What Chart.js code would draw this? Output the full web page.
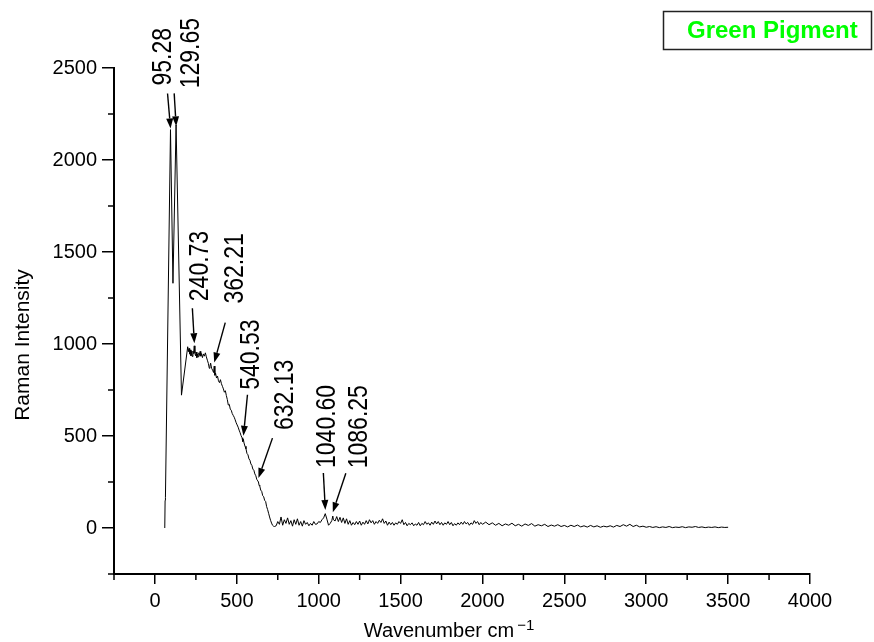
<!DOCTYPE html>
<html>
<head>
<meta charset="utf-8">
<title>Green Pigment – Raman spectrum</title>
<script src="https://cdn.jsdelivr.net/npm/chart.js@4/dist/chart.umd.min.js"></script>
<style>
  html, body { margin: 0; padding: 0; background: #fff; }
  #wrap { width: 874px; height: 642px; }
</style>
</head>
<body>
<div id="wrap"><canvas id="spectrum" width="874" height="642"></canvas></div>
<script>
// Raman spectrum of the green pigment: wavenumber (cm-1) and intensity
const wavenumbers = [
  60, 62, 64, 95, 110, 129, 162, 200, 204, 208,
  212, 216, 220, 224, 228, 232, 236, 240, 244, 248,
  252, 256, 260, 264, 268, 272, 276, 280, 284, 290,
  296, 302, 308, 314, 320, 326, 332, 336, 340, 346,
  352, 358, 362, 366, 370, 376, 382, 388, 394, 400,
  406, 412, 418, 424, 430, 436, 442, 448, 454, 460,
  466, 472, 478, 484, 490, 496, 502, 508, 514, 520,
  526, 532, 536, 540, 544, 550, 556, 562, 568, 574,
  580, 586, 592, 598, 604, 610, 616, 622, 628, 632,
  636, 640, 646, 652, 658, 664, 670, 676, 682, 688,
  694, 700, 706, 712, 718, 724, 730, 740, 750, 760,
  770, 780, 790, 800, 810, 820, 830, 840, 850, 860,
  870, 880, 890, 900, 910, 920, 930, 940, 950, 960,
  970, 980, 990, 1000, 1010, 1020, 1030, 1040, 1050, 1060,
  1070, 1080, 1086, 1090, 1100, 1110, 1120, 1130, 1140, 1150,
  1160, 1170, 1180, 1190, 1200, 1210, 1220, 1230, 1240, 1250,
  1260, 1270, 1280, 1290, 1300, 1310, 1320, 1330, 1340, 1350,
  1360, 1370, 1380, 1390, 1400, 1410, 1420, 1430, 1440, 1450,
  1460, 1470, 1480, 1490, 1500, 1510, 1520, 1530, 1540, 1550,
  1560, 1570, 1580, 1590, 1600, 1610, 1620, 1630, 1640, 1650,
  1660, 1670, 1680, 1690, 1700, 1710, 1720, 1730, 1740, 1750,
  1760, 1770, 1780, 1790, 1800, 1810, 1820, 1830, 1840, 1850,
  1860, 1870, 1880, 1890, 1900, 1910, 1920, 1930, 1940, 1950,
  1960, 1970, 1980, 1990, 2000, 2020, 2040, 2060, 2080, 2100,
  2120, 2140, 2160, 2180, 2200, 2220, 2240, 2260, 2280, 2300,
  2320, 2340, 2360, 2380, 2400, 2420, 2440, 2460, 2480, 2500,
  2520, 2540, 2560, 2580, 2600, 2620, 2640, 2660, 2680, 2700,
  2720, 2740, 2760, 2780, 2800, 2820, 2840, 2860, 2880, 2900,
  2920, 2940, 2960, 2980, 3000, 3020, 3040, 3060, 3080, 3100,
  3120, 3140, 3160, 3180, 3200, 3220, 3240, 3260, 3280, 3300,
  3320, 3340, 3360, 3380, 3400, 3420, 3440, 3460, 3480, 3500
];

const intensities = [
  0, 150, 165, 2165, 1330, 2190, 722, 985, 958, 976,
  945, 968, 936, 960, 932, 962, 948, 990, 950, 936,
  956, 926, 946, 930, 952, 938, 960, 934, 948, 926,
  946, 934, 952, 930, 912, 895, 868, 880, 896, 868,
  858, 845, 880, 830, 842, 815, 826, 800, 790, 806,
  784, 770, 756, 738, 746, 720, 698, 668, 672, 646,
  640, 622, 612, 602, 588, 572, 560, 548, 532, 518,
  502, 490, 470, 482, 462, 444, 430, 405, 398, 376,
  368, 348, 340, 320, 314, 294, 284, 264, 256, 250,
  232, 228, 206, 199, 176, 170, 150, 144, 116, 100,
  80, 60, 42, 27, 15, 10, 8, 12, 35, 20,
  60, 15, 45, 25, 55, 20, 40, 10, 45, 20,
  50, 15, 35, 10, 40, 20, 30, 12, 25, 15,
  35, 20, 22, 35, 30, 45, 55, 78, 48, 15,
  25, 40, 65, 45, 38, 62, 35, 58, 30, 55,
  25, 50, 20, 40, 15, 30, 18, 35, 20, 38,
  15, 32, 20, 40, 22, 45, 28, 40, 20, 35,
  25, 42, 30, 50, 25, 38, 15, 32, 18, 30,
  15, 28, 20, 35, 25, 45, 18, 30, 12, 25,
  18, 28, 12, 22, 15, 30, 12, 25, 18, 35,
  20, 28, 15, 32, 20, 38, 22, 35, 18, 30,
  15, 28, 20, 35, 18, 30, 12, 24, 15, 28,
  18, 32, 20, 35, 22, 30, 15, 28, 20, 40,
  25, 35, 18, 30, 20, 32, 18, 28, 15, 25,
  12, 22, 15, 26, 12, 20, 10, 22, 14, 24,
  10, 18, 12, 20, 8, 16, 10, 18, 8, 14,
  6, 15, 8, 16, 6, 12, 5, 14, 6, 12,
  4, 10, 6, 12, 5, 14, 8, 18, 10, 20,
  8, 15, 6, 10, 4, 8, 3, 7, 2, 6,
  3, 8, 2, 5, 3, 7, 2, 6, 4, 8,
  3, 6, 2, 5, 3, 6, 2, 5, 3, 4
];

// Assigned band positions (cm-1)
const peakPositions = [95.28, 129.65, 240.73, 362.21, 540.53, 632.13, 1040.60, 1086.25];

// Axis ticks
const xTicks = [0, 500, 1000, 1500, 2000, 2500, 3000, 3500, 4000];
const xMinorTicks = [-250, 250, 750, 1250, 1750, 2250, 2750, 3250, 3750];
const yTicks = [0, 500, 1000, 1500, 2000, 2500];
const yMinorTicks = [-250, 250, 750, 1250, 1750, 2250];

const seriesName = 'Green Pigment';
const xTitle = 'Wavenumber cm';
const xTitleSup = '\u22121';
const yTitle = 'Raman Intensity';

const FONT = "'Liberation Sans', Arial, Helvetica, sans-serif";

// Label / arrow placement for each band, in pixels relative to the arrow tip
const peakLayout = [
  { text: [0, -43],   tail: [-3, -35] },
  { text: [23, -38],  tail: [-2, -33] },
  { text: [14, -42],  tail: [-2, -35] },
  { text: [29, -59],  tail: [11, -40] },
  { text: [16, -46],  tail: [4, -41] },
  { text: [35, -48],  tail: [14, -40] },
  { text: [10, -42],  tail: [-2, -37] },
  { text: [34, -44],  tail: [13, -39] }
];

function intensityAt(w) {
  for (let i = 1; i < wavenumbers.length; i++) {
    if (w <= wavenumbers[i]) {
      const x0 = wavenumbers[i - 1], x1 = wavenumbers[i];
      const t = (w - x0) / (x1 - x0);
      return intensities[i - 1] + t * (intensities[i] - intensities[i - 1]);
    }
  }
  return intensities[intensities.length - 1];
}

function drawArrow(ctx, x1, y1, x2, y2) {
  const ang = Math.atan2(y2 - y1, x2 - x1);
  const headLen = 10, headHalf = 3.5;
  const bx = x2 - headLen * Math.cos(ang), by = y2 - headLen * Math.sin(ang);
  ctx.beginPath();
  ctx.moveTo(x1, y1);
  ctx.lineTo(bx, by);
  ctx.stroke();
  ctx.beginPath();
  ctx.moveTo(x2, y2);
  ctx.lineTo(bx + headHalf * Math.sin(ang), by - headHalf * Math.cos(ang));
  ctx.lineTo(bx - headHalf * Math.sin(ang), by + headHalf * Math.cos(ang));
  ctx.closePath();
  ctx.fill();
}

const decorations = {
  id: 'decorations',
  afterDraw(chart) {
    const { ctx, chartArea } = chart;
    const xs = chart.scales.x, ys = chart.scales.y;
    ctx.save();

    // minor ticks
    ctx.strokeStyle = '#000';
    ctx.lineWidth = 1.5;
    xMinorTicks.forEach(v => {
      const px = xs.getPixelForValue(v);
      ctx.beginPath();
      ctx.moveTo(px, chartArea.bottom);
      ctx.lineTo(px, chartArea.bottom + 6);
      ctx.stroke();
    });
    yMinorTicks.forEach(v => {
      const py = ys.getPixelForValue(v);
      ctx.beginPath();
      ctx.moveTo(chartArea.left, py);
      ctx.lineTo(chartArea.left - 6, py);
      ctx.stroke();
    });

    // band markers: arrows and rotated labels
    ctx.fillStyle = '#000';
    ctx.strokeStyle = '#000';
    ctx.lineWidth = 1.4;
    peakPositions.forEach((w, i) => {
      const tipX = xs.getPixelForValue(w);
      const tipY = ys.getPixelForValue(intensityAt(w)) - 4;
      const lay = peakLayout[i];
      drawArrow(ctx, tipX + lay.tail[0], tipY + lay.tail[1], tipX, tipY);
      ctx.save();
      ctx.translate(tipX + lay.text[0], tipY + lay.text[1]);
      ctx.scale(1.2, 1);
      ctx.rotate(-Math.PI / 2);
      ctx.font = '23px ' + FONT;
      ctx.textAlign = 'left';
      ctx.textBaseline = 'alphabetic';
      ctx.fillText(w.toFixed(2), 0, 0);
      ctx.restore();
    });

    // axis titles
    ctx.fillStyle = '#000';
    ctx.save();
    ctx.translate(28.5, 345);
    ctx.rotate(-Math.PI / 2);
    ctx.font = '21px ' + FONT;
    ctx.textAlign = 'center';
    ctx.textBaseline = 'alphabetic';
    ctx.fillText(yTitle, 0, 0);
    ctx.restore();

    ctx.font = '20px ' + FONT;
    const w1 = ctx.measureText(xTitle).width;
    ctx.font = '15px ' + FONT;
    const w2 = ctx.measureText(xTitleSup).width;
    const startX = 449 - (w1 + 3 + w2) / 2;
    ctx.textAlign = 'left';
    ctx.textBaseline = 'alphabetic';
    ctx.font = '20px ' + FONT;
    ctx.fillText(xTitle, startX, 636.5);
    ctx.font = '15px ' + FONT;
    ctx.fillText(xTitleSup, startX + w1 + 3, 630);

    // series name box
    ctx.strokeStyle = '#222';
    ctx.lineWidth = 1.5;
    ctx.strokeRect(663.5, 11.5, 208, 38);
    ctx.fillStyle = '#00ff00';
    ctx.font = 'bold 24px ' + FONT;
    ctx.fillText(seriesName, 687, 37.5);

    ctx.restore();
  }
};

const tickFont = { family: FONT, size: 20 };

new Chart(document.getElementById('spectrum'), {
  type: 'line',
  data: {
    datasets: [{
      label: seriesName,
      data: wavenumbers.map((w, i) => ({ x: w, y: intensities[i] })),
      borderColor: '#000',
      borderWidth: 1,
      pointRadius: 0,
      tension: 0,
      fill: false
    }]
  },
  options: {
    responsive: false,
    animation: false,
    devicePixelRatio: 1,
    layout: { padding: { top: 68, right: 64, bottom: 0, left: 0 } },
    plugins: { legend: { display: false }, tooltip: { enabled: false } },
    scales: {
      x: {
        type: 'linear',
        min: -250,
        max: 4000,
        afterBuildTicks: s => { s.ticks = xTicks.map(v => ({ value: v })); },
        afterFit: s => { s.height = 68; },
        ticks: { font: tickFont, color: '#000', padding: 5, maxRotation: 0, autoSkip: false, callback: v => String(v) },
        grid: { drawOnChartArea: false, drawTicks: true, tickLength: 10, color: '#000', lineWidth: 1.5 },
        border: { display: true, color: '#000', width: 2 }
      },
      y: {
        type: 'linear',
        min: -250,
        max: 2500,
        afterBuildTicks: s => { s.ticks = yTicks.map(v => ({ value: v })); },
        afterFit: s => { s.width = 114; },
        ticks: { font: tickFont, color: '#000', padding: 5, autoSkip: false, callback: v => String(v) },
        grid: { drawOnChartArea: false, drawTicks: true, tickLength: 12, color: '#000', lineWidth: 1.5 },
        border: { display: true, color: '#000', width: 2 }
      }
    }
  },
  plugins: [decorations]
});
</script>
</body>
</html>
